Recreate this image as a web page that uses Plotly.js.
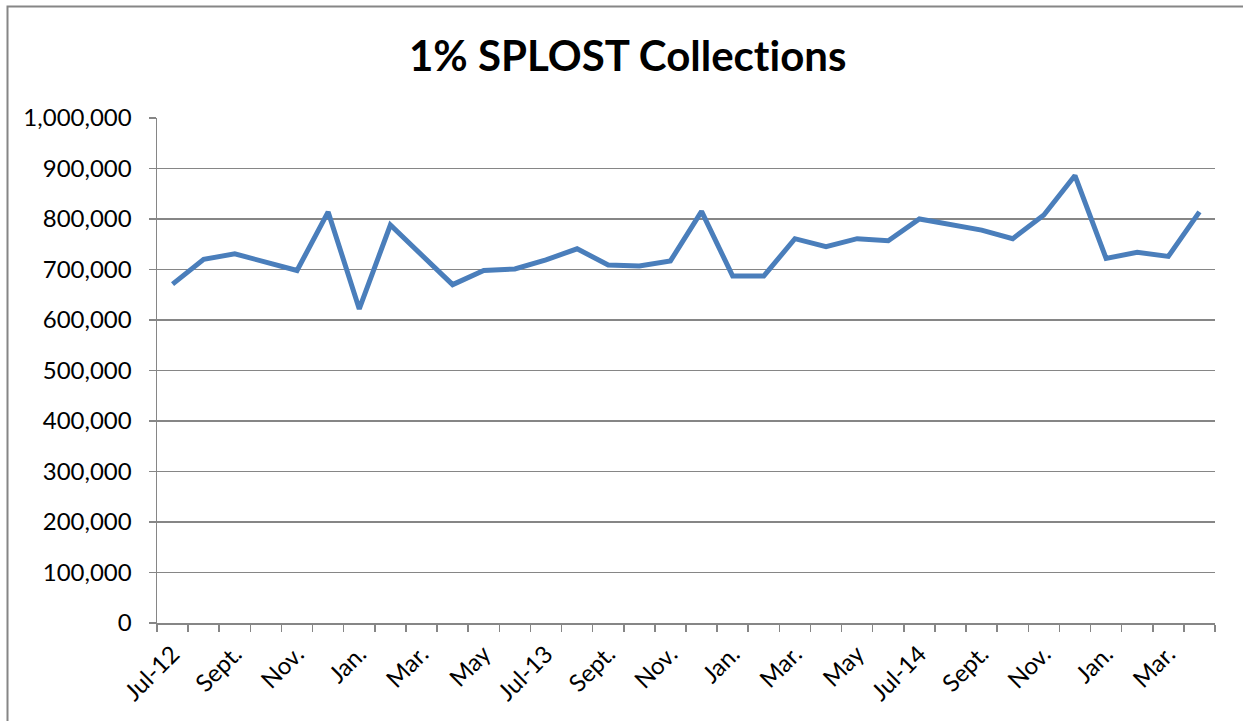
<!DOCTYPE html>
<html>
<head>
<meta charset="utf-8">
<script src="https://cdn.plot.ly/plotly-3.0.1.min.js"></script>
<style>
html,body{margin:0;padding:0;background:#fff;overflow:hidden;}
#chart{width:1243px;height:721px;}
#chart text{font-variant-ligatures:none;font-feature-settings:"liga" 0;}
</style>
</head>
<body>
<div id="chart"></div>
<script>
// Monthly 1% SPLOST collections, Jul 2012 - Apr 2015
const months = [
  "Jul 2012","Aug 2012","Sep 2012","Oct 2012","Nov 2012","Dec 2012",
  "Jan 2013","Feb 2013","Mar 2013","Apr 2013","May 2013","Jun 2013",
  "Jul 2013","Aug 2013","Sep 2013","Oct 2013","Nov 2013","Dec 2013",
  "Jan 2014","Feb 2014","Mar 2014","Apr 2014","May 2014","Jun 2014",
  "Jul 2014","Aug 2014","Sep 2014","Oct 2014","Nov 2014","Dec 2014",
  "Jan 2015","Feb 2015","Mar 2015","Apr 2015"
];
const collections = [
  671000, 720000, 731000, 715000, 698000, 814000,
  622000, 788000, 728000, 670000, 698000, 701000,
  719000, 741000, 709000, 707000, 717000, 815000,
  687000, 687000, 761000, 745000, 761000, 757000,
  800000, 788000, 778000, 761000, 808000, 886000,
  722000, 734000, 726000, 814000
];
// Axis labels shown on every other month
const tickLabels = ["Jul-12","Sept.","Nov.","Jan.","Mar.","May",
                    "Jul-13","Sept.","Nov.","Jan.","Mar.","May",
                    "Jul-14","Sept.","Nov.","Jan.","Mar."];

const xIdx = months.map((m, i) => i);
const labelPos = tickLabels.map((t, i) => i * 2);

const gray = '#868686';
const font = 'Lato, "Liberation Sans", sans-serif';

const trace = {
  x: xIdx,
  y: collections,
  text: months,
  type: 'scatter',
  mode: 'lines',
  line: {color: '#4A7EBB', width: 5},
  hovertemplate: '%{text}: %{y:,}<extra></extra>'
};

const layout = {
  width: 1243,
  height: 721,
  margin: {l: 157, r: 28, t: 118, b: 98},
  paper_bgcolor: '#fff',
  plot_bgcolor: '#fff',
  showlegend: false,
  font: {family: font, color: '#000'},
  title: {
    text: '<b>1% SPLOST Collections</b>',
    font: {family: font, size: 42, color: '#000'},
    x: 0.505, xanchor: 'center',
    y: 0.922, yanchor: 'middle'
  },
  xaxis: {
    range: [-0.5, months.length - 0.5],
    tickmode: 'array',
    tickvals: labelPos,
    ticktext: tickLabels,
    tickangle: -45,
    ticks: '',
    ticklabelstandoff: 6,
    showgrid: false,
    zeroline: false,
    showline: true,
    linecolor: gray,
    linewidth: 1.5,
    tickfont: {family: font, size: 24, color: '#000'},
    minor: {
      tickmode: 'linear', tick0: -0.5, dtick: 1,
      ticks: 'outside', ticklen: 7, tickwidth: 1.5, tickcolor: gray,
      showgrid: false
    },
    fixedrange: true
  },
  yaxis: {
    range: [0, 1000000],
    tickmode: 'linear',
    tick0: 0,
    dtick: 100000,
    tickformat: ',d',
    ticks: 'outside',
    ticklen: 7,
    tickwidth: 1.5,
    tickcolor: gray,
    ticklabelstandoff: 12,
    showgrid: true,
    gridcolor: gray,
    gridwidth: 1.5,
    zeroline: false,
    showline: true,
    linecolor: gray,
    linewidth: 1.5,
    tickfont: {family: font, size: 24, color: '#000'},
    fixedrange: true
  },
  shapes: [{
    type: 'rect', xref: 'paper', yref: 'paper',
    x0: (7.5 - 157) / 1058, x1: (1260 - 157) / 1058,
    y0: (623 - 740) / 505, y1: (623 - 6.5) / 505,
    line: {color: gray, width: 2}, fillcolor: 'rgba(0,0,0,0)', layer: 'above'
  }]
};

Plotly.newPlot('chart', [trace], layout, {displayModeBar: false, staticPlot: true});
</script>
</body>
</html>
